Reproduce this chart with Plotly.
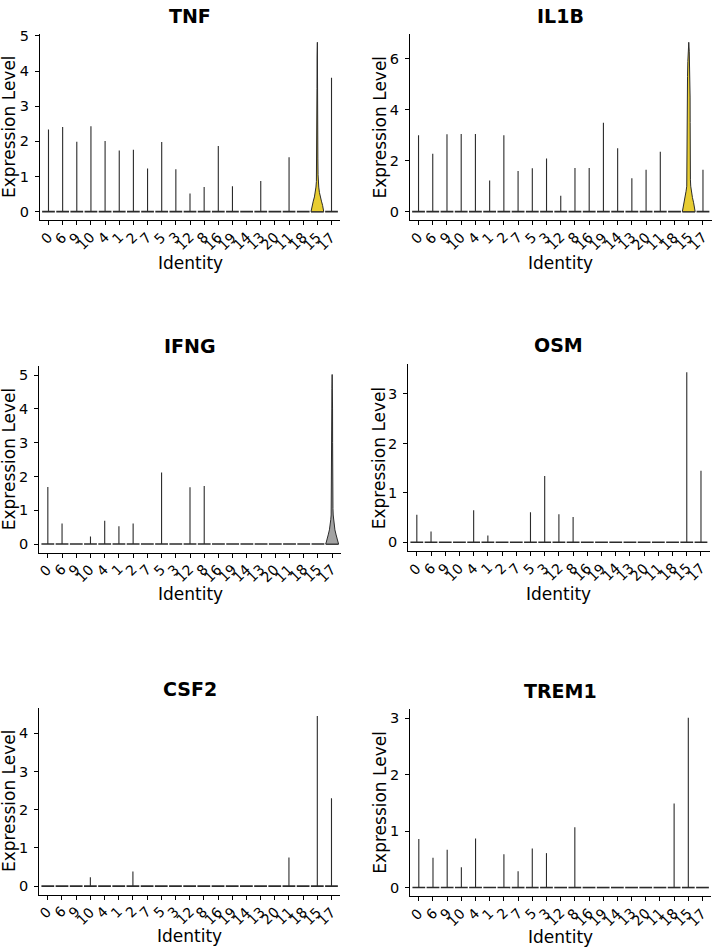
import plotly.graph_objects as go

# ---------------- data ----------------
categories = ["0", "6", "9", "10", "4", "1", "2", "7", "5", "3", "12", "8",
              "16", "19", "14", "13", "20", "11", "18", "15", "17"]

# maximum expression per identity (height of each thin violin)
tnf = [2.34, 2.41, 1.99, 2.43, 2.01, 1.74, 1.76, 1.23, 1.98, 1.21, 0.52, 0.70,
       1.87, 0.72, 0, 0.87, 0, 1.55, 0, 4.82, 3.81]
il1b = [3.00, 2.27, 3.04, 3.05, 3.05, 1.22, 3.00, 1.60, 1.70, 2.09, 0.62, 1.71,
        1.71, 3.49, 2.49, 1.31, 1.65, 2.35, 0, 6.65, 1.65]
ifng = [1.69, 0.61, 0, 0.22, 0.69, 0.53, 0.61, 0, 2.12, 0, 1.68, 1.72,
        0, 0, 0, 0, 0, 0, 0, 0, 5.02]
osm = [0.56, 0.22, 0, 0, 0.65, 0.14, 0, 0, 0.61, 1.34, 0.57, 0.51,
       0, 0, 0, 0, 0, 0, 0, 3.44, 1.45]
csf2 = [0, 0, 0, 0.23, 0, 0, 0.38, 0, 0, 0, 0, 0,
        0, 0, 0, 0, 0, 0.75, 0, 4.45, 2.30]
trem1 = [0.86, 0.53, 0.67, 0.36, 0.87, 0, 0.59, 0.29, 0.69, 0.61, 0, 1.07,
         0, 0, 0, 0, 0, 0, 1.49, 3.01, 0]

# density profiles of the visibly wide violins (level, relative half width)
tnf_15_level = [0, 0.08, 0.18, 0.3, 0.42, 0.55, 0.7, 0.86, 1.05, 1.5, 2.5, 3.5, 4.4, 4.82]
tnf_15_width = [1.0, 0.95, 0.82, 0.64, 0.46, 0.32, 0.22, 0.15, 0.11, 0.08, 0.07, 0.06, 0.04, 0.0]
il1b_15_level = [0, 0.15, 0.35, 0.55, 0.8, 1.0, 1.25, 1.6, 2.5, 3.5, 4.5, 5.3, 5.9, 6.3, 6.65]
il1b_15_width = [1.0, 0.93, 0.76, 0.58, 0.42, 0.31, 0.26, 0.24, 0.23, 0.22, 0.21, 0.19, 0.14, 0.08, 0.0]
ifng_17_level = [0, 0.1, 0.27, 0.42, 0.57, 0.72, 0.86, 1.05, 1.3, 2.0, 3.0, 4.0, 4.6, 5.02]
ifng_17_width = [1.0, 0.9, 0.62, 0.43, 0.31, 0.22, 0.16, 0.12, 0.1, 0.08, 0.07, 0.06, 0.04, 0.0]

fill_colors = {"15": "#E8CD32", "17": "#A3A3A3"}

panels = [
    dict(title="TNF", values=tnf, dtick=1,
         violins={"15": (tnf_15_level, tnf_15_width)},
         box=(40, 340, 28, 215.5), title_y=10, ytitle_x=9, xtitle_y=259),
    dict(title="IL1B", values=il1b, dtick=2,
         violins={"15": (il1b_15_level, il1b_15_width)},
         box=(410, 711.5, 28, 215.5), title_y=10, ytitle_x=379.5, xtitle_y=259),
    dict(title="IFNG", values=ifng, dtick=1,
         violins={"17": (ifng_17_level, ifng_17_width)},
         box=(39.3, 340.7, 362.3, 550), title_y=342.5, ytitle_x=9, xtitle_y=591.5),
    dict(title="OSM", values=osm, dtick=1, violins={},
         box=(408.3, 709.5, 360, 548.3), title_y=341.5, ytitle_x=379, xtitle_y=591.5),
    dict(title="CSF2", values=csf2, dtick=1, violins={},
         box=(39.3, 340, 706, 894.3), title_y=687, ytitle_x=9, xtitle_y=936),
    dict(title="TREM1", values=trem1, dtick=1, violins={},
         box=(410.3, 711, 707.7, 895.7), title_y=689, ytitle_x=380, xtitle_y=936.5),
]

W, H = 713, 949
HALF = 0.45
FONT = "DejaVu Sans"
LINE = "#2b2b2b"

fig = go.Figure()
annotations = []

for k, p in enumerate(panels):
    n = k + 1
    xa = "x" if n == 1 else f"x{n}"
    ya = "y" if n == 1 else f"y{n}"
    vals = p["values"]
    idx = list(range(len(categories)))

    # zero-level widths (every group has its full-width base at 0)
    zx, zy = [], []
    for i in idx:
        zx += [i - HALF, i + HALF, None]
        zy += [0, 0, None]
    fig.add_trace(go.Scatter(x=zx, y=zy, mode="lines", xaxis=xa, yaxis=ya,
                             line=dict(color=LINE, width=1.6), hoverinfo="skip"))

    # thin spikes
    sx, sy = [], []
    for i, v in zip(idx, vals):
        if v > 0 and categories[i] not in p["violins"]:
            sx += [i, i, None]
            sy += [0, v, None]
    fig.add_trace(go.Scatter(x=sx, y=sy, mode="lines", xaxis=xa, yaxis=ya,
                             line=dict(color=LINE, width=1.1), hoverinfo="skip"))

    # wide violins
    for cat, (lev, wid) in p["violins"].items():
        i = categories.index(cat)
        right_x = [i + HALF * w for w in wid]
        left_x = [i - HALF * w for w in wid[::-1]]
        fig.add_trace(go.Scatter(
            x=right_x + left_x + [right_x[0]],
            y=lev + lev[::-1] + [lev[0]],
            mode="lines", fill="toself", fillcolor=fill_colors[cat],
            xaxis=xa, yaxis=ya, line=dict(color=LINE, width=1.0),
            hoverinfo="skip"))

    x0, x1, top, bottom = p["box"]
    M = max(vals)
    fig.layout[f"xaxis{'' if n == 1 else n}"] = dict(
        domain=[x0 / W, x1 / W], anchor=ya, range=[-0.6, len(categories) - 0.4],
        tickmode="array", tickvals=idx, showticklabels=False,
        showline=True, linecolor="black", linewidth=1.3, ticks="outside",
        ticklen=4, tickwidth=1, tickcolor="black", showgrid=False, zeroline=False,
        fixedrange=True)
    fig.layout[f"yaxis{'' if n == 1 else n}"] = dict(
        domain=[1 - bottom / H, 1 - top / H], anchor=xa,
        range=[-0.05 * M, 1.05 * M], dtick=p["dtick"], tick0=0,
        showline=True, linecolor="black", linewidth=1.3, ticks="outside",
        ticklen=4, tickwidth=1, tickcolor="black", showgrid=False, zeroline=False,
        ticklabelstandoff=3,
        tickfont=dict(family=FONT, size=14.5, color="black"), fixedrange=True)

    # rotated category labels, ending at their tick
    for i, cat in zip(idx, categories):
        annotations.append(dict(text=cat, x=i, xshift=7, y=1 - (bottom + 9) / H,
                                xref=xa, yref="paper", showarrow=False,
                                xanchor="right", yanchor="top", textangle=-45,
                                borderpad=0, borderwidth=0,
                                font=dict(family=FONT, size=14, color="black")))

    cx = (x0 + x1) / 2 / W
    annotations.append(dict(text=f"<b>{p['title']}</b>", x=cx, y=1 - p["title_y"] / H,
                            xref="paper", yref="paper", showarrow=False,
                            xanchor="center", yanchor="middle",
                            borderpad=0, borderwidth=0,
                            font=dict(family=FONT, size=19, color="black")))
    annotations.append(dict(text="Identity", x=cx, y=1 - p["xtitle_y"] / H,
                            xref="paper", yref="paper", showarrow=False,
                            xanchor="center", yanchor="middle",
                            borderpad=0, borderwidth=0,
                            font=dict(family=FONT, size=17, color="black")))
    annotations.append(dict(text="Expression Level", x=p["ytitle_x"] / W,
                            y=1 - (top + bottom) / 2 / H, textangle=-90,
                            xref="paper", yref="paper", showarrow=False,
                            xanchor="center", yanchor="middle",
                            borderpad=0, borderwidth=0,
                            font=dict(family=FONT, size=17, color="black")))

fig.update_layout(width=W, height=H, margin=dict(l=0, r=0, t=0, b=0),
                  paper_bgcolor="white", plot_bgcolor="white", showlegend=False,
                  annotations=annotations)

# the page's default 8px body margin would shift the figure; remove it
fig.write_html("out.html",
               config={"displayModeBar": False},
               post_script="document.body.style.margin='0';"
                           "document.body.style.overflow='hidden';")
